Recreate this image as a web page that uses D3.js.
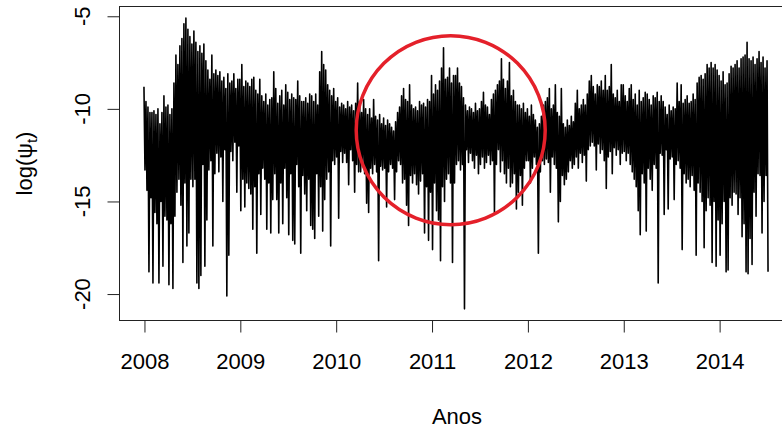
<!DOCTYPE html>
<html>
<head>
<meta charset="utf-8">
<script src="https://cdn.jsdelivr.net/npm/d3@7"></script>
<style>
  html, body { margin: 0; padding: 0; background: #fff; }
  svg { display: block; }
  text { font-family: "Liberation Sans", Arial, sans-serif; fill: #000; }
</style>
</head>
<body>
<svg id="chart" width="782" height="430"></svg>
<script>
// ---------- DATA ----------
// Weekly high and low excursions of log(psi_t), 4 per month starting Jan 2008
const hiVals = [
  // 2008
  -8.8,-9.6,-9.9,-10.2, -10.2,-10.1,-10.3,-10.0, -10.8,-10.2,-9.3,-9.9, -9.8,-10.3,-10.0,-8.6,
  -7.1,-7.6,-6.6,-6.2, -5.4,-5.1,-5.7,-6.1, -6.5,-5.8,-6.4,-6.9, -6.6,-7.0,-6.5,-7.4,
  -7.9,-8.4,-7.1,-8.1, -7.9,-8.2,-8.0,-8.5, -8.3,-8.9,-8.1,-8.6, -8.5,-8.1,-8.9,-8.4,
  // 2009
  -8.4,-7.6,-8.8,-8.5, -8.6,-8.8,-8.4,-8.3, -9.0,-9.2,-8.4,-9.3, -9.6,-9.2,-9.8,-9.5,
  -9.4,-8.0,-8.9,-9.7, -9.3,-9.0,-9.8,-8.7, -9.1,-9.5,-9.2,-9.4, -9.5,-8.5,-9.3,-9.6,
  -9.6,-9.4,-9.7,-9.2, -9.3,-9.6,-9.2,-9.8, -8.0,-6.9,-7.6,-7.9, -8.7,-9.0,-9.3,-8.9,
  // 2010
  -9.6,-9.4,-9.9,-9.7, -9.8,-10.0,-9.6,-9.9, -9.8,-10.1,-9.7,-8.6, -9.6,-10.2,-9.5,-10.0,
  -10.3,-10.0,-10.5,-9.5, -10.4,-10.6,-10.3,-10.8, -10.5,-10.9,-10.6,-10.8, -11.0,-11.2,-10.7,-10.2,
  -9.9,-9.3,-8.9,-9.5, -9.6,-8.7,-9.8,-10.0, -9.9,-10.1,-9.6,-9.8, -9.7,-9.9,-9.5,-9.6,
  // 2011
  -8.2,-9.2,-8.7,-9.0, -8.5,-7.8,-6.7,-8.4, -8.3,-7.8,-8.6,-8.2, -8.2,-7.8,-8.6,-8.8,
  -9.4,-9.8,-10.1,-9.9, -10.0,-10.2,-9.7,-10.1, -10.0,-9.6,-9.1,-9.8, -9.9,-10.3,-9.5,-9.2,
  -9.0,-8.7,-8.5,-7.3, -8.4,-8.9,-8.5,-7.5, -9.3,-9.0,-9.6,-9.8, -9.8,-10.0,-9.7,-10.2,
  // 2012
  -10.0,-10.4,-9.8,-10.3, -10.6,-11.0,-10.8,-10.4, -9.8,-9.6,-9.4,-8.9, -10.0,-9.8,-8.7,-10.2,
  -10.4,-8.9,-10.8,-11.0, -10.6,-10.9,-10.4,-10.7, -9.7,-9.0,-10.0,-9.8, -9.5,-9.8,-9.2,-8.5,
  -8.2,-8.8,-9.2,-8.7, -8.8,-8.5,-9.0,-8.2, -9.0,-8.8,-7.6,-9.2, -9.4,-9.0,-9.6,-8.7,
  // 2013
  -8.7,-9.3,-9.6,-8.9, -8.7,-9.5,-9.2,-9.8, -9.0,-9.6,-9.4,-9.1, -9.2,-9.5,-9.8,-9.3,
  -9.4,-9.1,-9.6,-9.3, -9.6,-9.9,-10.3,-9.8, -10.1,-9.9,-10.0,-8.6, -9.6,-8.7,-9.7,-9.5,
  -9.3,-9.7,-9.6,-9.2, -9.5,-8.6,-8.3,-8.2, -8.4,-8.1,-7.6,-7.8, -7.5,-7.8,-7.6,-7.9,
  // 2014
  -8.2,-8.5,-8.0,-8.7, -8.6,-8.1,-7.7,-7.8, -7.6,-7.4,-7.8,-7.3, -7.2,-7.1,-6.4,-7.3,
  -7.4,-7.2,-7.6,-7.3, -6.9,-7.5,-7.2,-7.8, -7.4
];
const loVals = [
  // 2008
  -13.3,-14.4,-18.8,-14.8, -19.4,-15.6,-16.2,-19.4, -15.0,-18.5,-15.8,-16.0, -19.5,-16.2,-19.7,-15.8,
  -14.5,-13.8,-15.2,-18.3, -14.0,-17.4,-16.7,-13.8, -14.2,-13.8,-19.4,-19.7, -19.0,-13.0,-18.5,-16.0,
  -13.3,-12.8,-17.4,-13.5, -12.4,-13.4,-12.6,-15.0, -12.2,-20.1,-17.9,-12.3, -12.8,-11.8,-14.5,-12.0,
  // 2009
  -15.5,-13.8,-15.3,-14.0, -14.3,-14.6,-16.5,-14.2, -17.8,-13.5,-15.7,-13.2, -13.8,-16.5,-14.0,-16.7,
  -14.9,-13.5,-14.9,-16.7, -14.0,-16.2,-13.2,-14.8, -16.8,-13.5,-17.1,-17.3, -13.0,-14.2,-17.8,-13.6,
  -14.6,-15.5,-13.8,-16.3, -16.5,-17.0,-13.5,-15.8, -14.2,-16.6,-14.9,-13.8, -13.4,-17.4,-12.8,-13.0,
  // 2010
  -12.6,-15.9,-12.3,-12.9, -12.4,-12.9,-14.1,-12.2, -12.8,-14.5,-13.0,-13.4, -13.4,-12.9,-13.5,-15.1,
  -15.6,-13.2,-13.5,-13.0, -13.4,-18.2,-13.1,-13.3, -13.2,-15.3,-13.4,-13.0, -13.2,-14.9,-13.4,-12.8,
  -13.0,-14.0,-13.8,-15.2, -16.3,-13.6,-14.0,-13.5, -14.1,-14.6,-13.9,-13.5, -16.7,-14.2,-17.1,-14.5,
  // 2011
  -17.6,-14.0,-15.5,-16.0, -18.2,-14.2,-15.0,-13.8, -13.5,-14.0,-18.3,-14.0, -13.0,-12.8,-13.3,-13.0,
  -20.8,-12.2,-12.9,-12.4, -12.8,-13.2,-12.5,-13.5, -13.0,-12.6,-13.2,-12.9, -12.5,-13.0,-12.8,-15.6,
  -13.0,-12.2,-13.4,-12.8, -13.5,-14.0,-13.2,-14.2, -14.0,-13.5,-15.4,-14.5, -13.6,-15.2,-13.2,-12.8,
  // 2012
  -12.8,-14.0,-13.2,-12.6, -13.0,-17.8,-13.4,-12.8, -13.0,-12.7,-12.9,-14.5, -12.6,-13.0,-13.2,-16.1,
  -15.0,-13.6,-14.1,-13.8, -13.4,-12.8,-13.2,-13.0, -12.6,-13.2,-12.4,-12.9, -12.5,-13.9,-12.2,-12.0,
  -11.8,-12.0,-13.3,-11.9, -12.4,-12.2,-12.8,-14.3, -12.6,-12.3,-13.5,-12.1, -12.5,-12.2,-13.0,-12.4,
  // 2013
  -12.3,-12.8,-12.4,-13.0, -13.4,-13.8,-14.2,-15.5, -16.8,-13.5,-14.0,-16.6, -13.2,-13.8,-14.4,-13.0,
  -13.2,-19.4,-12.4,-12.5, -15.7,-12.2,-15.4,-12.7, -12.6,-14.9,-13.0,-12.8, -13.2,-17.6,-13.5,-14.0,
  -13.8,-14.2,-13.6,-14.4, -17.9,-14.0,-14.5,-15.0, -17.5,-15.5,-14.8,-15.2, -18.3,-15.0,-18.5,-16.0,
  // 2014
  -17.9,-16.2,-15.0,-18.8, -18.7,-14.8,-15.2,-14.5, -14.6,-15.7,-14.8,-16.9, -16.2,-18.8,-18.9,-17.0,
  -18.4,-14.5,-15.8,-13.5, -13.6,-16.7,-15.0,-13.6, -18.8
];
const startYear = 2008;
const stepsPerYear = 48;               // 4 readings per month
const yearTicks = [2008, 2009, 2010, 2011, 2012, 2013, 2014];
const yTicks = [-5, -10, -15, -20];
const xTitle = "Anos";
// highlighted region (red circle) in data units
const highlight = { year: 2011.2, value: -11.15 };

(function () {
// ---------- BUILD SERIES ----------
const series = [];
hiVals.forEach((h, i) => {
  series.push({ t: startYear + i / stepsPerYear, v: h });
  series.push({ t: startYear + (i + 0.5) / stepsPerYear, v: loVals[i] });
});

// ---------- SCALES (R style 4% padding) ----------
const tExt = d3.extent(series, d => d.t);
const vExt = d3.extent(series, d => d.v);
const tPad = (tExt[1] - tExt[0]) * 0.04;
const vPad = (vExt[1] - vExt[0]) * 0.04;
const pLeft = 119, pRight = 793, pTop = 6.5, pBottom = 320.5;

const x = d3.scaleLinear().domain([tExt[0] - tPad, tExt[1] + tPad]).range([pLeft, pRight]);
const y = d3.scaleLinear().domain([vExt[0] - vPad, vExt[1] + vPad]).range([pBottom, pTop]);

const svg = d3.select("#chart");

// data line
const line = d3.line().x(d => x(d.t)).y(d => y(d.v));
svg.append("path")
  .datum(series)
  .attr("d", line)
  .attr("fill", "none")
  .attr("stroke", "#000")
  .attr("stroke-width", 1.6)
  .attr("stroke-linejoin", "round");

// box
svg.append("rect")
  .attr("x", pLeft + 0.5).attr("y", pTop)
  .attr("width", pRight + 10 - pLeft).attr("height", pBottom - pTop)
  .attr("fill", "none").attr("stroke", "#222").attr("stroke-width", 1);

// x axis
const xAxis = svg.append("g")
  .attr("transform", `translate(0.5,${pBottom})`)
  .call(d3.axisBottom(x).tickValues(yearTicks).tickFormat(d3.format("d"))
        .tickSize(12).tickSizeOuter(0).tickPadding(21));
xAxis.select(".domain").remove();
xAxis.selectAll(".tick line").attr("stroke", "#222");
xAxis.selectAll("text").attr("font-size", 22).attr("fill", "#000")
  .style("font-family", '"Liberation Sans", Arial, sans-serif');

// y axis
const yAxis = svg.append("g")
  .attr("transform", `translate(${pLeft + 0.5},0)`)
  .call(d3.axisLeft(y).tickValues(yTicks).tickSize(12).tickSizeOuter(0));
yAxis.select(".domain").remove();
yAxis.selectAll(".tick line").attr("stroke", "#222");
yAxis.selectAll("text").remove();
svg.append("g").selectAll("text")
  .data(yTicks).join("text")
  .attr("transform", d => `translate(90,${y(d)}) rotate(-90)`)
  .attr("text-anchor", "middle")
  .attr("font-size", 22)
  .text(d => d);

// axis titles
svg.append("text")
  .attr("x", 457).attr("y", 423.5)
  .attr("text-anchor", "middle")
  .attr("font-size", 22)
  .text(xTitle);

const yt = svg.append("text")
  .attr("transform", `translate(32,${(pTop + pBottom) / 2}) rotate(-90)`)
  .attr("text-anchor", "middle")
  .attr("font-size", 22);
yt.append("tspan").text("log(ψ");
yt.append("tspan").attr("font-size", 15).attr("dy", 5).text("t");
yt.append("tspan").attr("dy", -5).text(")");

// red highlight circle
svg.append("circle")
  .attr("cx", x(highlight.year))
  .attr("cy", y(highlight.value))
  .attr("r", 94.5)
  .attr("fill", "none")
  .attr("stroke", "#e4202a")
  .attr("stroke-width", 3.5);
})();
</script>
</body>
</html>
